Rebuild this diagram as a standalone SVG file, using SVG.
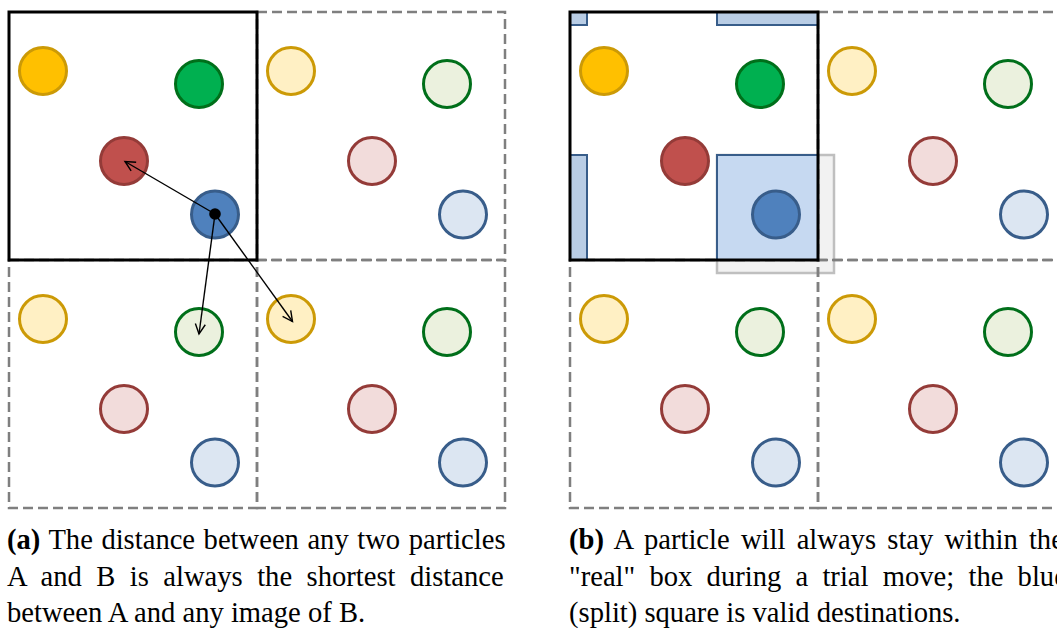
<svg xmlns="http://www.w3.org/2000/svg" width="1057" height="628" viewBox="0 0 1057 628">
<style>
.cell{fill:none;stroke:#7F7F7F;stroke-width:2.5;stroke-dasharray:10 5}
.box{fill:none;stroke:#000;stroke-width:3}
circle.p{stroke-width:3}
.y{fill:#FFC000;stroke:#CC9A06}
.g{fill:#00B050;stroke:#006F1A}
.r{fill:#C0504D;stroke:#943B38}
.b{fill:#4F81BD;stroke:#385D8A}
.yf{fill:#FFF0C4;stroke:#CC9A06}
.gf{fill:#EBF1DE;stroke:#006F1A}
.rf{fill:#F2DCDB;stroke:#943B38}
.bf{fill:#DCE6F2;stroke:#385D8A}
.split{fill:#B9CDE5;stroke:#385D8A;stroke-width:2}
.main{fill:#C6D9F1;stroke:#385D8A;stroke-width:2}
.ghost{fill:#F2F2F2;stroke:#BFBFBF;stroke-width:2.5}
.arrow{stroke:#000;stroke-width:1.4;fill:none;marker-end:url(#ah)}
.cap{font-family:"Liberation Serif","Times New Roman",serif;font-size:28.6px;fill:#000}
</style>
<defs>
<marker id="ah" viewBox="-12 -7 14 14" markerWidth="14" markerHeight="14" refX="0" refY="0" orient="auto" markerUnits="userSpaceOnUse">
<path d="M-10,-5 L0,0 L-10,5" fill="none" stroke="#000" stroke-width="1.4"/>
</marker>
</defs>

<!-- Panel (a) -->
<g id="panel-a-grid">
<rect class="cell" x="257" y="12" width="248" height="248"/>
<rect class="cell" x="9" y="260" width="248" height="248"/>
<rect class="cell" x="257" y="260" width="248" height="248"/>
<rect class="box" x="9" y="12" width="248" height="248"/>
</g>
<g id="a-real-particles">
<circle id="a-yellow" class="p y" cx="43" cy="71" r="23.5"/>
<circle id="a-green" class="p g" cx="199" cy="84" r="23.5"/>
<circle id="a-red" class="p r" cx="124" cy="161" r="23.5"/>
<circle id="a-blue" class="p b" cx="215" cy="214.5" r="23.5"/>
</g>
<g id="a-images-tr">
<circle class="p yf" cx="291" cy="71" r="23.5"/>
<circle class="p gf" cx="447" cy="84" r="23.5"/>
<circle class="p rf" cx="372" cy="161" r="23.5"/>
<circle class="p bf" cx="463" cy="214.5" r="23.5"/>
</g>
<g id="a-images-bl">
<circle class="p yf" cx="43" cy="319" r="23.5"/>
<circle class="p gf" cx="199" cy="332" r="23.5"/>
<circle class="p rf" cx="124" cy="409" r="23.5"/>
<circle class="p bf" cx="215" cy="462.5" r="23.5"/>
</g>
<g id="a-images-br">
<circle class="p yf" cx="291" cy="319" r="23.5"/>
<circle class="p gf" cx="447" cy="332" r="23.5"/>
<circle class="p rf" cx="372" cy="409" r="23.5"/>
<circle class="p bf" cx="463" cy="462.5" r="23.5"/>
</g>
<g id="connectors">
<line class="arrow" x1="215" y1="214" x2="125" y2="161.5"/>
<line class="arrow" x1="215" y1="214" x2="199" y2="334"/>
<line class="arrow" x1="215" y1="214" x2="292.5" y2="321.5"/>
<circle cx="215" cy="214" r="5.8" fill="#000"/>
</g>

<!-- Panel (b) -->
<g id="panel-b-grid">
<rect class="ghost" x="717" y="155" width="117" height="118"/>
<rect class="cell" x="818" y="12" width="248" height="248"/>
<rect class="cell" x="570" y="260" width="248" height="248"/>
<rect class="cell" x="818" y="260" width="248" height="248"/>
</g>
<g id="b-valid-region">
<rect class="main" x="717" y="155" width="101" height="105"/>
<rect class="split" x="570" y="155" width="17" height="105"/>
<rect class="split" x="717" y="12" width="101" height="13"/>
<rect class="split" x="570" y="12" width="17" height="13"/>
</g>
<rect id="b-box" class="box" x="570" y="12" width="248" height="248"/>
<g id="b-real-particles">
<circle id="b-yellow" class="p y" cx="604" cy="71" r="23.5"/>
<circle id="b-green" class="p g" cx="760" cy="84" r="23.5"/>
<circle id="b-red" class="p r" cx="685" cy="161" r="23.5"/>
<circle id="b-blue" class="p b" cx="776" cy="214.5" r="23.5"/>
</g>
<g id="b-images-tr">
<circle class="p yf" cx="852" cy="71" r="23.5"/>
<circle class="p gf" cx="1008" cy="84" r="23.5"/>
<circle class="p rf" cx="933" cy="161" r="23.5"/>
<circle class="p bf" cx="1024" cy="214.5" r="23.5"/>
</g>
<g id="b-images-bl">
<circle class="p yf" cx="604" cy="319" r="23.5"/>
<circle class="p gf" cx="760" cy="332" r="23.5"/>
<circle class="p rf" cx="685" cy="409" r="23.5"/>
<circle class="p bf" cx="776" cy="462.5" r="23.5"/>
</g>
<g id="b-images-br">
<circle class="p yf" cx="852" cy="319" r="23.5"/>
<circle class="p gf" cx="1008" cy="332" r="23.5"/>
<circle class="p rf" cx="933" cy="409" r="23.5"/>
<circle class="p bf" cx="1024" cy="462.5" r="23.5"/>
</g>

<!-- Captions -->
<g id="caption-a" class="cap">
<text x="7" y="549" word-spacing="1.4"><tspan font-weight="bold">(a)</tspan> The distance between any two particles</text>
<text x="7" y="585.5" word-spacing="7.3">A and B is always the shortest distance</text>
<text x="7" y="621.5">between A and any image of B.</text>
</g>
<g id="caption-b" class="cap">
<text x="569" y="549" word-spacing="4.1"><tspan font-weight="bold">(b)</tspan> A particle will always stay within the</text>
<text x="569" y="585.5" word-spacing="7.1">"real" box during a trial move; the blue</text>
<text x="569" y="621.5">(split) square is valid destinations.</text>
</g>
</svg>
